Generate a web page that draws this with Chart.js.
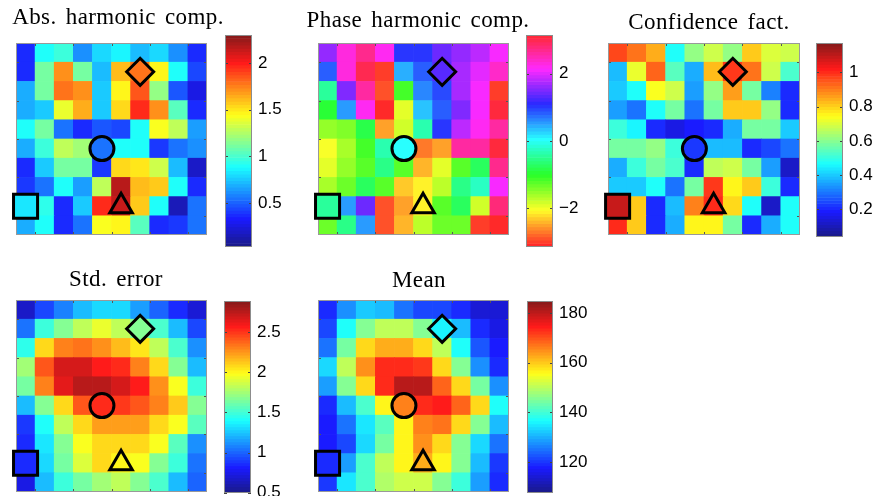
<!DOCTYPE html>
<html>
<head>
<meta charset="utf-8">
<script src="https://cdn.jsdelivr.net/npm/chart.js@4.4.0/dist/chart.umd.min.js"></script>
<style>
  html, body { margin: 0; padding: 0; background: #fff; width: 885px; height: 496px; overflow: hidden; }
  canvas { position: absolute; }
  .title { position: absolute; width: 300px; text-align: center; font-family: 'Liberation Serif', serif;
           font-size: 23px; line-height: 26px; letter-spacing: 0.4px; word-spacing: 3px; color: #000; white-space: nowrap; }
</style>
</head>
<body>
<script>
// 10x10 grids, row 0 = top row
const absComp = [
  [0.37, 0.89, 0.98, 0.60, 0.78, 0.87, 0.71, 0.78, 0.60, 0.37],
  [0.37, 1.12, 1.73, 1.10, 0.71, 1.62, 1.80, 1.46, 0.89, 0.44],
  [0.67, 1.10, 1.80, 1.71, 0.76, 1.46, 1.85, 1.17, 0.48, 0.26],
  [0.67, 0.76, 1.39, 1.66, 0.76, 1.55, 1.96, 1.73, 1.05, 0.35],
  [0.89, 1.10, 0.53, 0.35, 0.48, 0.44, 0.89, 1.44, 1.28, 0.64],
  [0.67, 0.98, 1.28, 1.21, 0.53, 0.89, 0.89, 0.42, 0.53, 0.60],
  [0.37, 0.76, 1.12, 1.12, 0.39, 1.55, 1.51, 1.32, 0.71, 0.19],
  [0.42, 0.53, 0.89, 0.64, 1.28, 2.19, 1.62, 1.57, 0.89, 0.37],
  [0.82, 0.94, 0.37, 0.76, 1.96, 2.14, 1.57, 0.89, 0.14, 0.53],
  [0.67, 0.89, 0.37, 0.53, 1.44, 1.46, 1.05, 0.37, 0.42, 0.53]
];
const phaseComp = [
  [1.66, 2.27, 2.70, 2.18, 1.05, 1.05, 1.40, 1.66, 1.83, 2.09],
  [0.79, 2.27, 2.97, -3.00, 0.44, 0.79, 1.31, 1.75, 2.01, 2.36],
  [-0.44, 1.48, 2.62, -2.88, -1.13, 0.61, 0.96, 1.75, 2.09, -2.97],
  [-0.96, 0.52, 2.18, -3.11, -1.92, 0.35, 0.84, 1.48, 2.09, 3.05],
  [-1.57, -1.40, -0.87, -2.53, -1.83, -0.35, 1.01, 1.83, 2.18, 2.62],
  [-2.01, -1.66, -1.13, -0.35, 0.00, -2.71, -2.53, 2.62, 2.62, 3.05],
  [-1.96, -1.57, -1.22, -0.52, -1.22, -2.41, -1.92, -1.22, -0.70, 2.70],
  [-1.66, -1.31, -0.70, -1.22, -2.27, -2.09, -1.75, -0.52, -0.26, 2.09],
  [-0.44, 0.52, 1.40, -2.88, -2.53, -2.09, -1.22, -0.70, -1.83, 2.79],
  [-1.31, -0.52, 0.52, -2.88, -2.36, -1.75, -1.31, -1.31, -3.00, -3.09]
];
const confFact = [
  [0.97, 0.91, 0.85, 0.47, 0.61, 0.68, 0.61, 0.80, 0.70, 0.68],
  [0.38, 0.72, 0.94, 0.55, 0.36, 0.83, 0.98, 0.91, 0.68, 0.53],
  [0.40, 0.47, 0.74, 0.68, 0.35, 0.61, 0.86, 0.58, 0.32, 0.21],
  [0.35, 0.29, 0.47, 0.58, 0.29, 0.58, 0.81, 0.80, 0.61, 0.21],
  [0.51, 0.45, 0.21, 0.15, 0.19, 0.21, 0.36, 0.58, 0.58, 0.40],
  [0.57, 0.58, 0.61, 0.51, 0.23, 0.38, 0.38, 0.21, 0.24, 0.30],
  [0.36, 0.51, 0.58, 0.53, 0.21, 0.66, 0.68, 0.58, 0.35, 0.12],
  [0.41, 0.40, 0.47, 0.29, 0.58, 0.98, 0.75, 0.80, 0.51, 0.21],
  [1.09, 0.81, 0.21, 0.38, 0.89, 1.00, 0.79, 0.47, 0.12, 0.47],
  [1.00, 0.80, 0.21, 0.36, 0.75, 0.75, 0.57, 0.21, 0.36, 0.47]
];
const stdErr = [
  [0.67, 0.91, 1.07, 1.22, 1.29, 1.29, 1.17, 1.02, 0.86, 0.69],
  [1.05, 1.50, 1.69, 1.81, 1.93, 1.81, 1.69, 1.53, 1.22, 0.91],
  [1.45, 2.10, 2.29, 2.36, 2.26, 2.17, 2.05, 1.81, 1.53, 1.10],
  [1.74, 2.41, 2.69, 2.69, 2.55, 2.53, 2.31, 2.07, 1.69, 1.22],
  [1.62, 2.31, 2.65, 2.77, 2.77, 2.69, 2.55, 2.26, 1.98, 1.50],
  [1.22, 1.69, 2.10, 2.41, 2.53, 2.50, 2.41, 2.29, 2.12, 1.69],
  [0.88, 1.41, 1.81, 2.07, 2.22, 2.22, 2.22, 2.10, 1.98, 1.57],
  [0.86, 1.33, 1.69, 1.98, 2.10, 2.10, 2.07, 1.98, 1.57, 1.10],
  [0.86, 1.29, 1.64, 1.88, 2.07, 2.00, 1.98, 1.69, 1.50, 1.05],
  [0.74, 1.22, 1.50, 1.64, 1.76, 1.81, 1.69, 1.53, 1.22, 1.02]
];
const meanVal = [
  [119, 128, 132, 131, 125, 121, 121, 119, 114, 114],
  [121, 137, 145, 150, 150, 145, 136, 131, 119, 115],
  [125, 144, 159, 163, 162, 159, 150, 137, 123, 118],
  [133, 150, 165, 173, 173, 172, 159, 145, 128, 119],
  [129, 145, 159, 173, 181, 181, 169, 159, 144, 128],
  [119, 131, 141, 156, 166, 173, 175, 169, 159, 137],
  [118, 125, 135, 142, 156, 166, 167, 159, 145, 131],
  [118, 121, 133, 144, 156, 165, 159, 146, 133, 125],
  [119, 129, 141, 150, 156, 163, 156, 145, 131, 120],
  [120, 135, 141, 149, 152, 152, 146, 140, 129, 119]
];

const colLabels = ['1', '2', '3', '4', '5', '6', '7', '8', '9', '10'];

// markers: square, circle, triangle, diamond
const markerCol = [0, 4, 5, 6];
const markerRow = [8, 5, 8, 1];
const markerStyle = ['rect', 'circle', 'triangle', 'rectRot'];
const markerRadius = [17, 12, 13, 13.5];

// colorbar ranges and ticks
const absRange = [0.03, 2.3];     const absTicks = [0.5, 1, 1.5, 2];
const phaseRange = [-3.14, 3.14]; const phaseTicks = [-2, 0, 2];
const confRange = [0.04, 1.17];   const confTicks = [0.2, 0.4, 0.6, 0.8, 1];
const stdRange = [0.5, 2.885];    const stdTicks = [0.5, 1, 1.5, 2, 2.5];
const meanRange = [107.6, 184.8]; const meanTicks = [120, 140, 160, 180];

const NLEV = 64;
const clamp = v => Math.max(0, Math.min(1, v));
const toRgb = (r, g, b, w) => `rgb(${Math.round(255 * (r + (1 - r) * w))},${Math.round(255 * (g + (1 - g) * w))},${Math.round(255 * (b + (1 - b) * w))})`;

const jet = t => {
  const k = Math.min(NLEV - 1, Math.floor(clamp(t) * NLEV)) / (NLEV - 1);
  return toRgb(clamp(1.5 - Math.abs(4 * k - 3)), clamp(1.5 - Math.abs(4 * k - 2)), clamp(1.5 - Math.abs(4 * k - 1)), 0.1);
};
const hsv = t => {
  const h = Math.min(NLEV - 1, Math.floor(clamp(t) * NLEV)) / NLEV * 6;
  const i = Math.floor(h), f = h - i;
  const rgb = [[1, f, 0], [1 - f, 1, 0], [0, 1, f], [0, 1 - f, 1], [f, 0, 1], [1, 0, 1 - f]][i % 6];
  return toRgb(rgb[0], rgb[1], rgb[2], 0.16);
};
const norm = (v, r) => (v - r[0]) / (r[1] - r[0]);
const fmt = v => String(v).replace('-', '\u2212');

const panels = [
  { title: 'Abs. harmonic comp.', data: absComp, cmap: jet, range: absRange, ticks: absTicks,
    plot: [16, 43, 191, 192], cb: [225, 35, 27, 212], head: [118, 4] },
  { title: 'Phase harmonic comp.', data: phaseComp, cmap: hsv, range: phaseRange, ticks: phaseTicks,
    plot: [318, 43, 191, 192], cb: [526, 35, 27, 212], head: [418, 7] },
  { title: 'Confidence fact.', data: confFact, cmap: jet, range: confRange, ticks: confTicks,
    plot: [608, 43, 192, 192], cb: [816, 43, 27, 194], head: [709, 9] },
  { title: 'Std. error', data: stdErr, cmap: jet, range: stdRange, ticks: stdTicks,
    plot: [16, 300, 191, 192], cb: [224, 301, 27, 192], head: [116, 266] },
  { title: 'Mean', data: meanVal, cmap: jet, range: meanRange, ticks: meanTicks,
    plot: [318, 300, 191, 192], cb: [527, 301, 26, 192], head: [419, 267] }
];

function makeCanvas(x, y, w, h) {
  const c = document.createElement('canvas');
  c.width = w; c.height = h;
  c.style.left = x + 'px'; c.style.top = y + 'px';
  c.style.width = w + 'px'; c.style.height = h + 'px';
  document.body.appendChild(c);
  return c;
}

// border + small inward ticks, drawn right after the cells so markers stay on top
const plotFrame = {
  id: 'plotFrame',
  afterDatasetDraw(chart, args) {
    if (args.index !== 0) return;
    const { ctx, chartArea: a, scales } = chart;
    ctx.save();
    ctx.strokeStyle = '#555';
    ctx.lineWidth = 1;
    ctx.beginPath();
    [1, 3, 5, 7, 9].forEach(k => {
      const x = Math.round(scales.x.getPixelForValue(k - 0.5)) + 0.5;
      const y = Math.round(scales.y.getPixelForValue(k)) + 0.5;
      ctx.moveTo(x, a.top); ctx.lineTo(x, a.top + 3);
      ctx.moveTo(x, a.bottom); ctx.lineTo(x, a.bottom - 3);
      ctx.moveTo(a.left, y); ctx.lineTo(a.left + 3, y);
      ctx.moveTo(a.right, y); ctx.lineTo(a.right - 3, y);
    });
    ctx.stroke();
    ctx.strokeStyle = '#999';
    ctx.strokeRect(Math.round(a.left) + 0.5, Math.round(a.top) + 0.5, Math.round(a.width) - 1, Math.round(a.height) - 1);
    ctx.restore();
  }
};

const cbFrame = {
  id: 'cbFrame',
  afterDraw(chart) {
    const { ctx, chartArea: a, scales } = chart;
    ctx.save();
    ctx.strokeStyle = '#444';
    ctx.lineWidth = 1;
    ctx.beginPath();
    scales.y.ticks.forEach(t => {
      const y = Math.round(scales.y.getPixelForValue(t.value)) + 0.5;
      ctx.moveTo(a.left, y); ctx.lineTo(a.left + 3, y);
      ctx.moveTo(a.right, y); ctx.lineTo(a.right - 3, y);
    });
    ctx.stroke();
    ctx.strokeStyle = '#8c8c8c';
    ctx.strokeRect(Math.round(a.left) + 0.5, Math.round(a.top) + 0.5, Math.round(a.width) - 1, Math.round(a.height) - 1);
    ctx.restore();
  }
};

function heatmap(p) {
  const [px, py, pw, ph] = p.plot;
  const pad = 16;
  const cv = makeCanvas(px - pad, py - pad, pw + 2 * pad, ph + 2 * pad);
  const cells = [], colors = [];
  p.data.forEach((row, r) => row.forEach((v, c) => {
    cells.push({ x: colLabels[c], y: [9 - r, 10 - r] });
    colors.push(p.cmap(norm(v, p.range)));
  }));
  const markers = markerCol.map((c, i) => ({ x: colLabels[c], y: 9.5 - markerRow[i] }));
  const markerFill = markerCol.map((c, i) => p.cmap(norm(p.data[markerRow[i]][c], p.range)));

  new Chart(cv, {
    type: 'bar',
    data: {
      labels: colLabels,
      datasets: [{
        data: cells,
        backgroundColor: colors,
        borderWidth: 0,
        categoryPercentage: 1,
        barPercentage: 1,
        order: 2
      }, {
        type: 'scatter',
        data: markers,
        pointStyle: markerStyle,
        pointRadius: markerRadius,
        backgroundColor: markerFill,
        borderColor: '#000',
        borderWidth: 3,
        clip: false,
        order: 1
      }]
    },
    options: {
      responsive: false,
      animation: false,
      events: [],
      layout: { padding: pad, autoPadding: false },
      plugins: { legend: { display: false }, tooltip: { enabled: false } },
      scales: {
        x: { display: false },
        y: { display: false, min: 0, max: 10 }
      }
    },
    plugins: [plotFrame]
  });
}

function colorbar(p) {
  const [x, y, w, h] = p.cb;
  const padL = 4, padV = 16, axisW = 50;
  const cv = makeCanvas(x - padL, y - padV, w + padL + axisW, h + 2 * padV);
  const [lo, hi] = p.range;
  const step = (hi - lo) / NLEV;
  const bands = [], bandColors = [];
  for (let i = 0; i < NLEV; i++) {
    bands.push({ x: 'c', y: [lo + i * step, lo + (i + 1) * step] });
    bandColors.push(p.cmap((i + 0.5) / NLEV));
  }
  new Chart(cv, {
    type: 'bar',
    data: {
      labels: ['c'],
      datasets: [{ data: bands, backgroundColor: bandColors, borderWidth: 0, categoryPercentage: 1, barPercentage: 1 }]
    },
    options: {
      responsive: false,
      animation: false,
      events: [],
      layout: { padding: { left: padL, right: 0, top: padV, bottom: padV }, autoPadding: false },
      plugins: { legend: { display: false }, tooltip: { enabled: false } },
      scales: {
        x: { display: false },
        y: {
          position: 'right',
          min: lo,
          max: hi,
          grid: { display: false, drawTicks: false },
          border: { display: false },
          afterBuildTicks: s => { s.ticks = p.ticks.map(v => ({ value: v })); },
          afterFit: s => { s.width = axisW; },
          ticks: {
            padding: 6,
            color: '#000',
            autoSkip: false,
            maxRotation: 0,
            font: { family: "'Liberation Sans', Arial, sans-serif", size: 17 },
            callback: v => fmt(v)
          }
        }
      }
    },
    plugins: [cbFrame]
  });
}

panels.forEach(p => {
  heatmap(p);
  colorbar(p);
  const t = document.createElement('div');
  t.className = 'title';
  t.textContent = p.title;
  t.style.left = (p.head[0] - 150) + 'px';
  t.style.top = p.head[1] + 'px';
  document.body.appendChild(t);
});
</script>
</body>
</html>
